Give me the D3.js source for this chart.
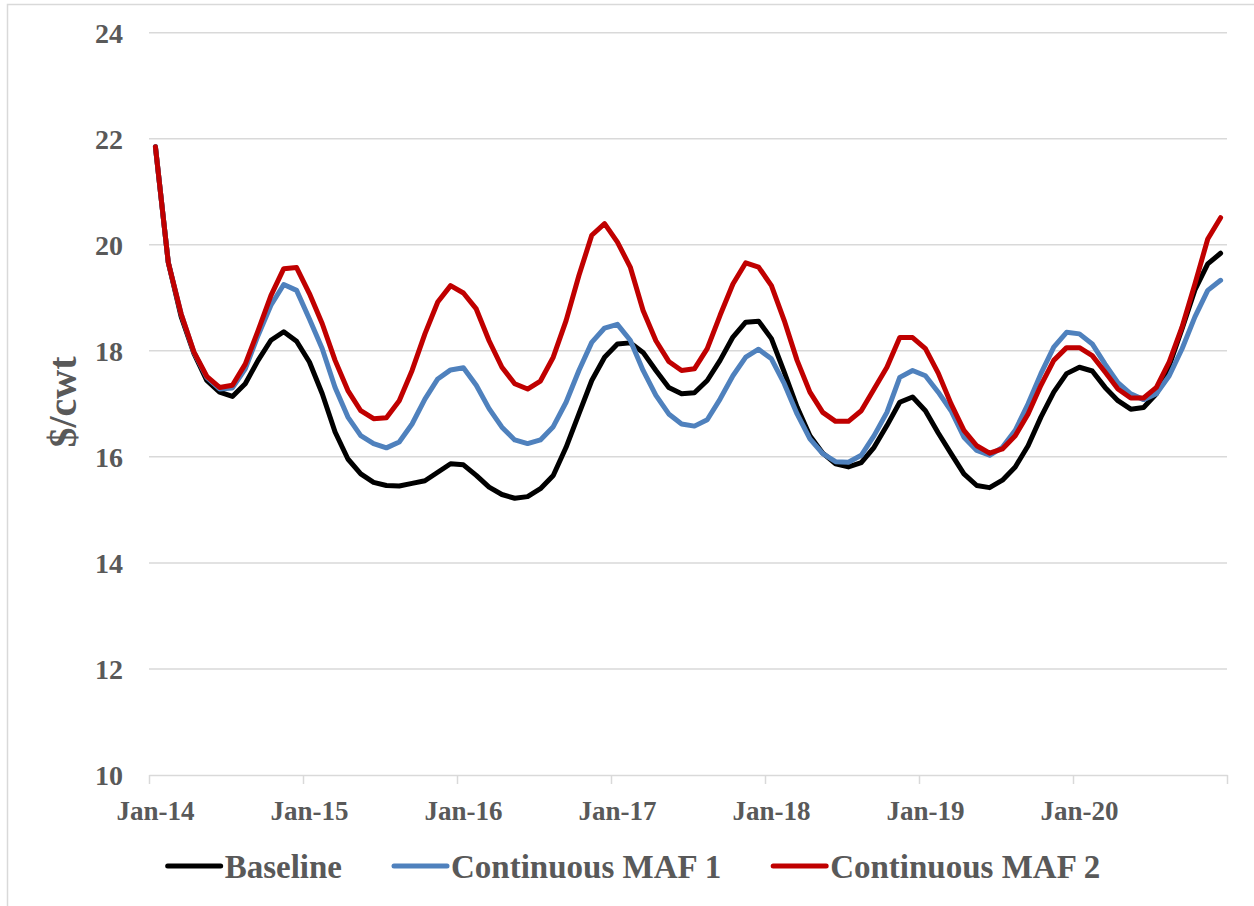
<!DOCTYPE html>
<html>
<head>
<meta charset="utf-8">
<script src="https://cdn.jsdelivr.net/npm/d3@7"></script>
<style>
  body { margin: 0; background: #fff; }
  text { font-family: "Liberation Serif", "DejaVu Serif", serif; font-weight: bold; fill: #595959; }
</style>
</head>
<body>
<svg id="chart" width="1254" height="906"></svg>
<script>
// monthly values Jan-14 .. Dec-20 ($/cwt)
const baseline = [
  21.85, 19.67, 18.65, 17.95, 17.44, 17.22, 17.14, 17.38, 17.82, 18.2, 18.36, 18.18,
  17.79, 17.19, 16.47, 15.96, 15.68, 15.52, 15.46, 15.45, 15.5, 15.55, 15.71, 15.87,
  15.85, 15.65, 15.43, 15.29, 15.22, 15.25, 15.4, 15.65, 16.18, 16.81, 17.44, 17.88,
  18.13, 18.15, 17.97, 17.63, 17.31, 17.19, 17.21, 17.44, 17.82, 18.26, 18.54, 18.56,
  18.23, 17.6, 16.94, 16.4, 16.07, 15.87, 15.81, 15.89, 16.18, 16.59, 17.03, 17.13,
  16.87, 16.45, 16.06, 15.68, 15.46, 15.42, 15.56, 15.81, 16.21, 16.75, 17.22, 17.57,
  17.69, 17.62, 17.31, 17.06, 16.9, 16.93, 17.19, 17.72, 18.42, 19.15, 19.64, 19.84
];
const maf1 = [
  21.85, 19.67, 18.7, 17.97, 17.5, 17.28, 17.3, 17.66, 18.29, 18.86, 19.25, 19.14,
  18.6, 18.04, 17.31, 16.75, 16.4, 16.25, 16.17, 16.28, 16.62, 17.09, 17.47, 17.64,
  17.68, 17.35, 16.91, 16.56, 16.32, 16.25, 16.32, 16.57, 17.03, 17.63, 18.16, 18.43,
  18.5, 18.2, 17.63, 17.16, 16.81, 16.62, 16.58, 16.7, 17.09, 17.53, 17.88, 18.03,
  17.85, 17.38, 16.81, 16.34, 16.06, 15.91, 15.9, 16.03, 16.4, 16.84, 17.5, 17.63,
  17.53, 17.22, 16.87, 16.37, 16.12, 16.03, 16.18, 16.5, 17.0, 17.57, 18.07, 18.35,
  18.32, 18.13, 17.75, 17.4, 17.19, 17.08, 17.19, 17.53, 18.04, 18.64, 19.14, 19.33
];
const maf2 = [
  21.85, 19.67, 18.7, 17.98, 17.52, 17.31, 17.35, 17.75, 18.38, 19.04, 19.55, 19.57,
  19.08, 18.51, 17.82, 17.25, 16.87, 16.72, 16.74, 17.06, 17.63, 18.32, 18.92, 19.23,
  19.09, 18.79, 18.19, 17.69, 17.38, 17.28, 17.43, 17.88, 18.57, 19.42, 20.18, 20.4,
  20.05, 19.58, 18.76, 18.19, 17.8, 17.63, 17.66, 18.04, 18.67, 19.26, 19.66, 19.58,
  19.23, 18.57, 17.82, 17.22, 16.84, 16.67, 16.67, 16.87, 17.28, 17.69, 18.25, 18.25,
  18.04, 17.58, 17.0, 16.5, 16.21, 16.07, 16.15, 16.4, 16.81, 17.35, 17.82, 18.06,
  18.06, 17.91, 17.6, 17.28, 17.11, 17.11, 17.31, 17.79, 18.45, 19.26, 20.11, 20.51
];
const yearLabels = ["Jan-14", "Jan-15", "Jan-16", "Jan-17", "Jan-18", "Jan-19", "Jan-20"];
const yTicks = [10, 12, 14, 16, 18, 20, 22, 24];
const seriesNames = ["Baseline", "Continuous MAF 1", "Continuous MAF 2"];
const seriesColors = ["#000000", "#4f81bd", "#c00000"];

const svg = d3.select("#chart");

// outer chart border (only top/left visible in the picture)
svg.append("rect")
    .attr("x", 7.5).attr("y", 4.5)
    .attr("width", 1300).attr("height", 950)
    .attr("fill", "none")
    .attr("stroke", "#d9d9d9")
    .attr("stroke-width", 1.5);

const plotLeft = 149, plotRight = 1227, plotTop = 32.7, plotBottom = 775;

const x = d3.scaleLinear().domain([0, 84]).range([plotLeft, plotRight]);
const y = d3.scaleLinear().domain([10, 24]).range([plotBottom, plotTop]);

// gridlines
svg.append("g")
    .selectAll("line")
    .data(yTicks.slice(1))
    .enter()
    .append("line")
    .attr("x1", plotLeft).attr("x2", plotRight)
    .attr("y1", d => y(d)).attr("y2", d => y(d))
    .attr("stroke", "#d9d9d9")
    .attr("stroke-width", 1.5);

// y labels
svg.append("g")
    .selectAll("text")
    .data(yTicks)
    .enter()
    .append("text")
    .attr("x", 123)
    .attr("y", d => y(d))
    .attr("dy", "0.35em")
    .attr("text-anchor", "end")
    .style("font-size", "28px")
    .text(d => d);

// x axis: ticks at every January boundary
const xAxis = svg.append("g")
    .attr("transform", `translate(0,${plotBottom})`)
    .call(d3.axisBottom(x).tickValues(d3.range(0, 85, 12)).tickSize(9).tickSizeOuter(0).tickFormat(""));
xAxis.select(".domain").attr("stroke", "#d9d9d9").attr("stroke-width", 1.5);
xAxis.selectAll(".tick line").attr("stroke", "#d9d9d9").attr("stroke-width", 1.5);

svg.append("g")
    .selectAll("text")
    .data(yearLabels)
    .enter()
    .append("text")
    .attr("x", (d, i) => x(i * 12 + 0.5))
    .attr("y", 820)
    .attr("text-anchor", "middle")
    .style("font-size", "27px")
    .text(d => d);

// y title
svg.append("text")
    .attr("transform", "translate(76,402) rotate(-90)")
    .attr("text-anchor", "middle")
    .style("font-size", "40px")
    .text("$/cwt");

// lines
const line = d3.line()
    .x((d, i) => x(i + 0.5))
    .y(d => y(d));

[baseline, maf1, maf2].forEach((vals, k) => {
    svg.append("path")
        .datum(vals)
        .attr("d", line)
        .attr("fill", "none")
        .attr("stroke", seriesColors[k])
        .attr("stroke-width", 5)
        .attr("stroke-linejoin", "round")
        .attr("stroke-linecap", "round");
});

// legend
const legend = svg.append("g");
let lx = 0;
seriesNames.forEach((name, k) => {
    const item = legend.append("g").attr("transform", `translate(${lx},0)`);
    item.append("line")
        .attr("x1", 2).attr("x2", 55)
        .attr("y1", 0).attr("y2", 0)
        .attr("stroke", seriesColors[k])
        .attr("stroke-width", 5)
        .attr("stroke-linecap", "round");
    const t = item.append("text")
        .attr("x", 59)
        .attr("y", 0)
        .attr("dy", "0.35em")
        .style("font-size", "33px")
        .text(name);
    lx += 59 + t.node().getComputedTextLength() + 50;
});
const legendWidth = lx - 50;
legend.attr("transform", `translate(${633 - legendWidth / 2},866)`);
</script>
</body>
</html>
